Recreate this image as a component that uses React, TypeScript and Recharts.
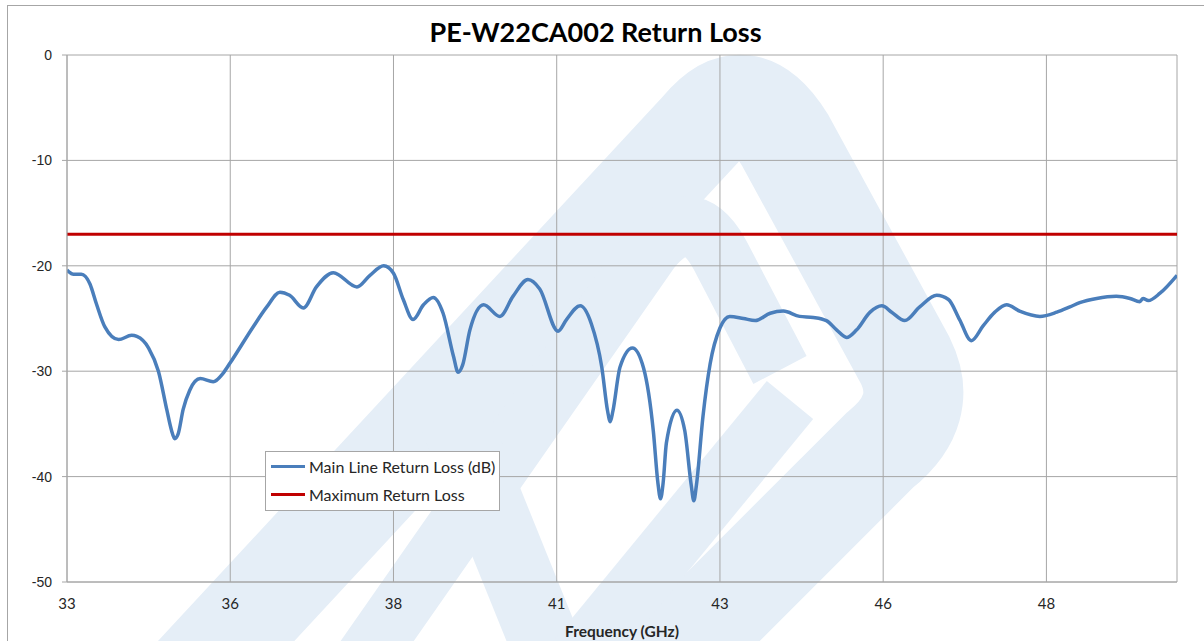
import React from 'react';
import { LineChart, Line, XAxis, YAxis, CartesianGrid, ReferenceLine } from 'recharts';

const freqs = [
  33.0, 33.1, 33.22, 33.35, 33.45, 33.58, 33.79, 33.99, 34.07, 34.25,
  34.4, 34.53, 34.6, 34.65, 34.7, 34.78, 34.88, 35.04, 35.24, 35.39,
  35.5, 35.85, 36.06, 36.26, 36.41, 36.62, 36.82, 37.08, 37.44, 37.64,
  37.85, 38.0, 38.15, 38.3, 38.46, 38.61, 38.76, 38.92, 38.99, 39.06,
  39.17, 39.38, 39.63, 39.83, 40.06, 40.24, 40.52, 40.65, 40.86, 41.03,
  41.19, 41.28, 41.32, 41.36, 41.47, 41.66, 41.83, 41.98, 42.05, 42.09,
  42.13, 42.18, 42.34, 42.46, 42.56, 42.6, 42.64, 42.74, 42.85, 43.0,
  43.15, 43.36, 43.54, 43.77, 43.97, 44.22, 44.43, 44.63, 44.79, 44.94,
  45.09, 45.3, 45.48, 45.63, 45.83, 46.06, 46.32, 46.5, 46.67, 46.85,
  47.03, 47.21, 47.39, 47.59, 47.9, 48.16, 48.36, 48.51, 48.77, 49.07,
  49.28, 49.43, 49.48, 49.56, 49.74, 50.0,
];

const returnLoss = [
  -20.4, -20.8, -20.8, -21.7, -23.6, -25.8, -27.0, -26.6, -26.7, -27.8,
  -30.0, -33.7, -35.6, -36.4, -36.0, -33.6, -31.8, -30.7, -31.0, -30.2,
  -29.2, -25.8, -23.9, -22.5, -22.8, -24.0, -22.0, -20.65, -22.0, -20.9,
  -20.0, -20.7, -23.2, -25.1, -23.7, -23.0, -24.5, -28.6, -30.1, -29.4,
  -26.1, -23.7, -24.8, -22.9, -21.3, -22.2, -26.2, -25.1, -23.8, -25.5,
  -29.6, -33.8, -34.8, -33.8, -29.6, -27.8, -29.7, -35.7, -40.6, -42.1,
  -40.6, -36.8, -33.7, -35.6, -40.8, -42.3, -40.8, -34.3, -29.3, -25.9,
  -24.8, -25.0, -25.2, -24.5, -24.3, -24.8, -24.9, -25.2, -26.1, -26.8,
  -26.1, -24.4, -23.8, -24.4, -25.2, -23.9, -22.8, -23.2, -25.1, -27.1,
  -25.7, -24.4, -23.7, -24.3, -24.8, -24.4, -23.9, -23.5, -23.1, -22.9,
  -23.1, -23.4, -23.1, -23.3, -22.6, -20.9,
];

const limitFreqs = [33, 50];
const limitValues = [-17, -17];

const xTicks = [33, 35.5, 38, 40.5, 43, 45.5, 48];
const yTicks = [-50, -40, -30, -20, -10, 0];

const mainData = freqs.map((f, i) => ({ f, rl: returnLoss[i] }));
const limitData = limitFreqs.map((f, i) => ({ f, max: limitValues[i] }));

const BLUE = '#4a7ebb';
const RED = '#c00000';
const GRID = '#a6a6a6';
const MARK = '#e5eef7';
const FONT = 'Lato, sans-serif';

// faint company logo behind the plot
function Watermark() {
  return <svg width={1204} height={641} style={{ position: 'absolute', left: 0, top: 0 }}>
      <g fill="none" stroke={MARK} strokeLinejoin="round" strokeLinecap="butt">
        <path d="M 190 680 L 700 130 Q 745 75 785 140 L 905 360 Q 930 410 880 450 L 650 680" strokeWidth={100} />
        <path d="M 350 680 L 650 250 Q 690 200 720 255 L 780 370" strokeWidth={60} />
        <path d="M 455 420 L 560 680" strokeWidth={70} />
        <path d="M 790 400 L 560 680" strokeWidth={60} />
      </g>
    </svg>;
}

function LegendBox() {
  const items = [
    { label: 'Main Line Return Loss (dB)', color: BLUE },
    { label: 'Maximum Return Loss', color: RED },
  ];
  return <div style={{
    position: 'absolute', left: 265, top: 451, width: 235, height: 60,
    background: '#fff', border: '1px solid #a6a6a6', boxSizing: 'border-box',
    fontFamily: FONT, fontSize: 16, color: '#262626',
    padding: '0 0 0 5px'
  }}>
      {items.map(it => <div key={it.label} style={{ display: 'flex', alignItems: 'center', height: 28.5, whiteSpace: 'nowrap' }}>
          <span style={{ display: 'inline-block', width: 34, height: 3, background: it.color, marginRight: 4 }} />
          <span>{it.label}</span>
        </div>)}
    </div>;
}

export default function App() {
  return <div style={{ position: 'fixed', left: 0, top: 0, width: 1204, height: 641, background: '#fff', overflow: 'hidden' }}>
      <Watermark />
      <div style={{ position: 'absolute', left: 7, top: 5, width: 1210, height: 650, border: '1px solid #a6a6a6' }} />
      <div style={{
        position: 'absolute', left: 0, top: 15, width: 1191, textAlign: 'center',
        fontFamily: FONT, fontWeight: 700, fontSize: 27, color: '#000'
      }}>
        PE-W22CA002 Return Loss
      </div>
      <div style={{ position: 'absolute', left: 0, top: 0 }}>
        <LineChart width={1204} height={641} margin={{ top: 55, right: 27, left: 7, bottom: 0 }}>
          <CartesianGrid stroke={GRID} strokeWidth={1} horizontalValues={yTicks} verticalValues={xTicks} />
          <XAxis type="number" dataKey="f" domain={[33, 50]} ticks={xTicks} allowDataOverflow
            tickFormatter={(v: number) => String(Math.round(v))}
            tick={{ fontFamily: FONT, fontSize: 15, fill: '#262626' }}
            axisLine={{ stroke: GRID }} tickLine={false} tickSize={0} tickMargin={16} height={59}
            label={{ value: 'Frequency (GHz)', position: 'insideBottom', offset: 4, fontFamily: FONT, fontWeight: 700, fontSize: 15.5, fill: '#262626' }} />
          <YAxis type="number" domain={[-50, 0]} ticks={yTicks} width={60}
            tick={{ fontFamily: 'Liberation Sans, Arial, sans-serif', fontSize: 14, fill: '#262626' }}
            axisLine={{ stroke: GRID }} tickLine={{ stroke: GRID }} tickSize={5} tickMargin={10} />
          <ReferenceLine x={50} stroke={GRID} />
          <Line data={limitData} dataKey="max" stroke={RED} strokeWidth={3} dot={false} isAnimationActive={false} />
          <Line data={mainData} dataKey="rl" type="monotone" stroke={BLUE} strokeWidth={3.5} dot={false} isAnimationActive={false} />
        </LineChart>
      </div>
      <LegendBox />
    </div>;
}
